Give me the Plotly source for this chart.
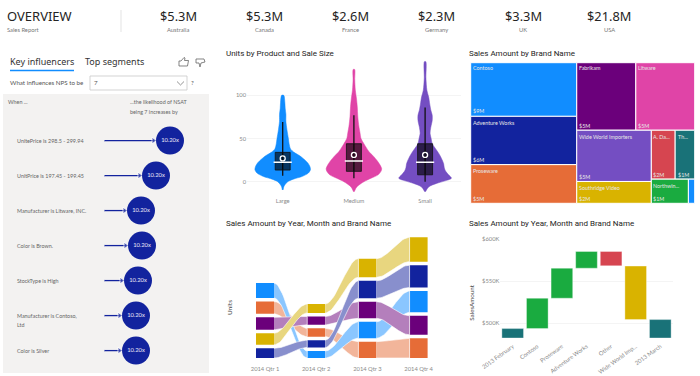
import plotly.graph_objects as go

W, H = 700, 376
TITLE_FONT = "Roboto"
BODY_FONT = "Lato"

# ---------- data ----------
kpi_values = ["$5.3M", "$5.3M", "$2.6M", "$2.3M", "$3.3M", "$21.8M"]
kpi_names = ["Australia", "Canada", "France", "Germany", "UK", "USA"]

ki_labels = ["UnitePrice is 298.5 - 299.94", "UnitPrice is 197.45 - 199.45", "Manufacturer is Litware, INC.",
             "Color is Brown.", "StockType is High", "Manufacturer is Contoso,<br>Ltd", "Color is Silver"]
ki_strength = [66, 52, 37, 38, 34, 32, 32]
ki_text = ["10.20x"] * 7

sizes = ["Large", "Medium", "Small"]
violin_y = [
    [-9.6, -5, 0, 3, 6, 10, 14, 18, 22, 26, 30, 34, 38, 44, 50, 60, 70, 78, 85, 92, 100],
    [-11.6, -6, 0, 4, 8, 12, 15, 19, 24, 29, 35, 40, 44, 50, 57, 64, 75, 87, 97, 106, 118, 130],
    [-11.6, -6, -2, 1, 4, 8, 12, 16, 21, 27, 33, 39, 44, 50, 56, 63, 71, 77, 83, 90, 98, 106, 120, 139],
]
violin_density = [
    [0.005, 0.02, 0.07, 0.15, 0.27, 0.36, 0.39, 0.38, 0.35, 0.30, 0.24, 0.16, 0.11, 0.09, 0.08, 0.06, 0.045, 0.045, 0.035, 0.03, 0.015],
    [0.005, 0.04, 0.14, 0.24, 0.34, 0.38, 0.39, 0.37, 0.33, 0.28, 0.21, 0.17, 0.14, 0.10, 0.085, 0.07, 0.055, 0.047, 0.035, 0.02, 0.012, 0.01],
    [0.005, 0.05, 0.16, 0.28, 0.37, 0.33, 0.29, 0.27, 0.26, 0.23, 0.19, 0.14, 0.10, 0.085, 0.07, 0.08, 0.10, 0.10, 0.08, 0.065, 0.05, 0.025, 0.012, 0.01],
]
box_q1 = [13.5, 12, 8]
box_median = [22.4, 24, 22.4]
box_q3 = [34, 44, 44]
box_mean = [27, 31, 31]
box_low = [7, 4, 0]
box_high = [69, 77, 86]

quarters = ["2014 Qtr 1", "2014 Qtr 2", "2014 Qtr 3", "2014 Qtr 4"]
ribbon_units = {
    "Proseware": [37, 25, 49, 59],
    "Contoso": [45, 21, 49, 64],
    "Fabrikam": [37, 25, 50, 57],
    "Adventure Works": [29, 22, 52, 67],
    "Southridge Video": [35, 27, 56, 73],
}
ribbon_order = [
    ["Adventure Works", "Southridge Video", "Fabrikam", "Proseware", "Contoso"],
    ["Contoso", "Adventure Works", "Proseware", "Fabrikam", "Southridge Video"],
    ["Proseware", "Contoso", "Fabrikam", "Adventure Works", "Southridge Video"],
    ["Proseware", "Fabrikam", "Contoso", "Adventure Works", "Southridge Video"],
]
brand_colors = {"Contoso": "#118DFF", "Adventure Works": "#12239E", "Proseware": "#E66C37",
                "Fabrikam": "#6B007B", "Southridge Video": "#D9B300"}
ribbon_fill = {"Contoso": "#8AC6FF", "Adventure Works": "#888FCD", "Proseware": "#F2B59A",
               "Fabrikam": "#B47FBC", "Southridge Video": "#E8D67F"}
ribbon_gap = 10.5

tree_names = ["Contoso", "Adventure Works", "Proseware", "Fabrikam", "Litware", "Wide World Importers",
              "Southridge Video", "A. Da...", "Th...", "Northwin...", "Other"]
tree_values = [51200, 46100, 36900, 35900, 35800, 34400, 14650, 10500, 8600, 8060, 1370]
tree_colors = ["#118DFF", "#12239E", "#E66C37", "#6B007B", "#E044A7", "#744EC2", "#D9B300", "#D64550", "#197278", "#1AAB40", "#118DFF"]
tree_amounts = ["$9M", "$6M", "$5M", "$5M", "$5M", "$5M", "$2M", "$2M", "$1M", "$1M", ""]

wf_cats = ["2013 February", "Contoso", "Proseware", "Adventure Works", "Other", "Wide World Imp...", "2013 March"]
wf_open = [482.5, 493.7, 529.8, 565.5, 585.3, 568.0, 482.5]
wf_close = [493.7, 529.8, 565.5, 585.3, 568.3, 504.4, 504.4]
wf_colors = ["#197278", "#1AAB40", "#1AAB40", "#1AAB40", "#D64550", "#D9B300", "#197278"]
wf_ticks = [500, 550, 600]
wf_ticktext = ["$500K", "$550K", "$600K"]


# ---------- pixel helpers (layout only) ----------
def fx(p):
    return p / W


def fy(p):
    return 1 - p / H


def dom_x(a, b):
    return [fx(a), fx(b)]


def dom_y(top, bottom):
    return [fy(bottom), fy(top)]


annotations, shapes = [], []


def label(x, y, text, size=7, color="#666666", anchor="left", font=BODY_FONT, **kw):
    px_x = x - 1 if anchor == "left" else x
    annotations.append(dict(x=fx(px_x), y=fy(y), xref="paper", yref="paper", text=text, showarrow=False,
                            xanchor=anchor, yanchor="middle", align=anchor, borderpad=0,
                            font=dict(size=size, color=color, family=font), **kw))


def vlabel(x, y, text, size):
    annotations.append(dict(x=fx(x), y=fy(y), xref="paper", yref="paper", text=text, textangle=-90, showarrow=False,
                            xanchor="center", yanchor="middle", font=dict(size=size, color="#444444", family=BODY_FONT)))


def rect(x0, y0, x1, y1, fill="rgba(0,0,0,0)", line="rgba(0,0,0,0)", width=1):
    shapes.append(dict(type="rect", xref="paper", yref="paper", x0=fx(x0), x1=fx(x1), y0=fy(y0), y1=fy(y1),
                       fillcolor=fill, line=dict(color=line, width=width), layer="below"))


def icon(points, close=True, color="#666666", width=0.8):
    d = "M" + " L".join(f"{fx(a):.5f},{fy(b):.5f}" for a, b in points) + (" Z" if close else "")
    shapes.append(dict(type="path", xref="paper", yref="paper", path=d, line=dict(color=color, width=width)))


fig = go.Figure()

# ---------- header ----------
label(7, 16, "OVERVIEW", size=13, color="#252423", font="Noto Sans")
label(7, 30, "Sales Report", size=5.8, color="#777777")
shapes.append(dict(type="line", xref="paper", yref="paper", x0=fx(121), x1=fx(121), y0=fy(10), y1=fy(32),
                   line=dict(color="#E3E3E3", width=1)))
for cx, val, name in zip([178, 264.5, 350, 436.7, 523, 609], kpi_values, kpi_names):
    label(cx, 16, val, size=12.8, color="#252423", anchor="center", font="Noto Sans")
    label(cx, 30, name, size=5.8, color="#777777", anchor="center")

# ---------- key influencers ----------
label(10, 62, "Key influencers", size=9, color="#333333", font="Noto Sans")
label(85, 62, "Top segments", size=9, color="#333333", font="Noto Sans")
shapes.append(dict(type="line", xref="paper", yref="paper", x0=fx(10), x1=fx(74), y0=fy(70.5), y1=fy(70.5),
                   line=dict(color="#118DFF", width=1.5)))
icon([(179, 61), (181, 61), (184, 57.5), (185, 58), (184.5, 60.5), (188.5, 60.5), (187.5, 66), (179, 66)])
icon([(196, 59), (204, 59), (205, 62), (201, 63), (200, 67), (199, 63), (196, 63)])
label(10, 83, "What influences NPS to be", size=6.2, color="#555555")
rect(90, 76, 187, 90, fill="#FFFFFF", line="#C8C8C8", width=0.8)
label(94, 83, "7", size=6.2, color="#555555")
icon([(177, 81.5), (180.5, 85), (184, 81.5)], close=False, color="#777777")
label(192.5, 83, "?", size=6.2, color="#555555", anchor="center")
rect(3, 94, 209, 373, fill="#F3F2F1")
label(8, 102, "When ...", size=5.4, color="#666666")
label(130, 102, "...the likelihood of NSAT", size=5.4, color="#666666")
label(130, 112, "being 7 increases by", size=5.4, color="#666666")

ki_rows = list(range(len(ki_labels)))
for r, v in zip(ki_rows, ki_strength):
    fig.add_trace(go.Scatter(x=[0, v - 16.5], y=[r, r], mode="lines+markers", xaxis="x", yaxis="y",
                             line=dict(color="#12239E", width=1.3),
                             marker=dict(symbol=["line-ew", "triangle-right"], size=[1, 6], color="#12239E"),
                             showlegend=False, hoverinfo="skip"))
fig.add_trace(go.Scatter(x=ki_strength, y=ki_rows, mode="markers+text", xaxis="x", yaxis="y",
                         text=ki_text, textposition="middle center",
                         textfont=dict(size=5.8, color="#E8E8F5", family=BODY_FONT),
                         marker=dict(size=28, color="#12239E"), showlegend=False))
for r, txt in zip(ki_rows, ki_labels):
    for j, part in enumerate(txt.split("<br>")):
        annotations.append(dict(x=fx(15), y=r + j * 0.26, xref="paper", yref="y", text=part, showarrow=False,
                                xanchor="left", yanchor="middle", font=dict(size=5.4, color="#666666", family=BODY_FONT)))

# ---------- violins ----------
violin_colors = ["#118DFF", "#E044A7", "#744EC2"]
BOX_HALF = 0.105
for i, name in enumerate(sizes):
    xs = [i - d for d in violin_density[i]] + [i + d for d in reversed(violin_density[i])]
    ys = violin_y[i] + violin_y[i][::-1]
    fig.add_trace(go.Scatter(x=xs, y=ys, mode="lines", fill="toself", fillcolor=violin_colors[i], xaxis="x2", yaxis="y2",
                             line=dict(color=violin_colors[i], width=0.5, shape="spline", smoothing=0.8),
                             name=name, showlegend=False))
    fig.add_trace(go.Scatter(x=[i, i], y=[box_low[i], box_high[i]], mode="lines", xaxis="x2", yaxis="y2",
                             line=dict(color="#111111", width=1.3), showlegend=False, name=name))
    fig.add_trace(go.Scatter(x=[i - BOX_HALF, i + BOX_HALF, i + BOX_HALF, i - BOX_HALF, i - BOX_HALF],
                             y=[box_q1[i], box_q1[i], box_q3[i], box_q3[i], box_q1[i]],
                             mode="lines", fill="toself", fillcolor="rgba(0,0,0,0.62)", xaxis="x2", yaxis="y2",
                             line=dict(color="#111111", width=0.8), showlegend=False, name=name))
fig.add_trace(go.Scatter(x=[0, 1, 2], y=box_median, mode="markers", xaxis="x2", yaxis="y2", showlegend=False,
                         marker=dict(symbol="line-ew", size=13, line=dict(color="#FFFFFF", width=1.5))))
fig.add_trace(go.Scatter(x=[0, 1, 2], y=box_mean, mode="markers", xaxis="x2", yaxis="y2", showlegend=False,
                         marker=dict(symbol="circle-open", size=5, color="#FFFFFF", line=dict(color="#FFFFFF", width=1.3))))
label(226, 54, "Units by Product and Sale Size", size=8, color="#252423", font=TITLE_FONT)


# ---------- ribbon ----------
def ribbon_stack(q):
    out, base = {}, 0
    for brand in ribbon_order[q]:
        top = base + ribbon_units[brand][q]
        out[brand] = (base, top)
        base = top + ribbon_gap
    return out


stacks = [ribbon_stack(q) for q in range(4)]
BAR_W = 0.352
STEPS = 24
for brand in ribbon_units:
    for q in range(3):
        x0, x1 = q + BAR_W / 2, q + 1 - BAR_W / 2
        (b0, t0), (b1, t1) = stacks[q][brand], stacks[q + 1][brand]
        ts = [k / STEPS for k in range(STEPS + 1)]
        ease = [t * t * (3 - 2 * t) for t in ts]
        xs = [x0 + t * (x1 - x0) for t in ts]
        top = [t0 + e * (t1 - t0) for e in ease]
        bot = [b0 + e * (b1 - b0) for e in ease]
        fig.add_trace(go.Scatter(x=xs + xs[::-1], y=top + bot[::-1], mode="lines", fill="toself", xaxis="x3", yaxis="y3",
                                 fillcolor=ribbon_fill[brand], line=dict(color="#FFFFFF", width=0.6),
                                 name=brand, showlegend=False, hoverinfo="skip"))
for brand in ribbon_units:
    fig.add_trace(go.Bar(x=[0, 1, 2, 3], y=ribbon_units[brand], base=[stacks[q][brand][0] for q in range(4)],
                         width=BAR_W, marker=dict(color=brand_colors[brand], line=dict(width=0)),
                         xaxis="x3", yaxis="y3", name=brand, showlegend=False))
label(226, 223, "Sales Amount by Year, Month and Brand Name", size=8, color="#252423", font=TITLE_FONT)
vlabel(229, 308, "Units", 6.5)

# ---------- treemap ----------
fig.add_trace(go.Treemap(labels=tree_names, parents=[""] * len(tree_names), values=tree_values,
                         domain=dict(x=dom_x(470.7, 694.7), y=dom_y(62.7, 203.3)),
                         marker=dict(colors=tree_colors, line=dict(color="#FFFFFF", width=1), pad=dict(t=0, l=0, r=0, b=0)),
                         tiling=dict(packing="squarify", pad=0, squarifyratio=1.7), pathbar=dict(visible=False),
                         textinfo="none", hoverinfo="label+value", sort=True))
tree_label_pos = [(473, 68), (473, 122.7), (473, 171), (579, 68), (638, 68), (579, 136.7), (579, 188), (653.3, 136.7), (677.7, 136.7), (653.3, 186), None]
tree_value_pos = [(473, 110.7), (473, 160), (473, 199), (579, 126), (638, 126), (579, 176.7), (579, 199), (653.3, 174.7), (677.7, 174.7), (653.3, 199), None]
for nm, amt, lp, vp in zip(tree_names, tree_amounts, tree_label_pos, tree_value_pos):
    if lp:
        label(lp[0], lp[1], nm, size=5.4, color="#E6E6E6")
        label(vp[0], vp[1], amt, size=5.4, color="#E6E6E6")
label(469, 54, "Sales Amount by Brand Name", size=8, color="#252423", font=TITLE_FONT)

# ---------- waterfall ----------
fig.add_trace(go.Bar(x=wf_cats, y=[c - o for o, c in zip(wf_open, wf_close)], base=wf_open,
                     marker=dict(color=wf_colors, line=dict(color="rgba(255,255,255,0.6)", width=0.6)),
                     xaxis="x5", yaxis="y5", showlegend=False, name="SalesAmount"))
label(469, 223, "Sales Amount by Year, Month and Brand Name", size=8, color="#252423", font=TITLE_FONT)
vlabel(470.7, 303, "SalesAmount", 6.2)

tick_font = dict(size=5.8, color="#8A8A8A", family=BODY_FONT)
hidden = dict(visible=False, fixedrange=True, automargin=False)
fig.update_layout(
    width=W, height=H, margin=dict(l=0, r=0, t=0, b=0, autoexpand=False), paper_bgcolor="#FFFFFF", plot_bgcolor="rgba(0,0,0,0)",
    showlegend=False, barmode="overlay", bargap=0.12, annotations=annotations, shapes=shapes,
    xaxis=dict(domain=dom_x(104, 209), range=[0, 105], **hidden),
    yaxis=dict(domain=dom_y(94, 373), range=[6.64, -1.33], **hidden),
    xaxis2=dict(domain=dom_x(247.1, 460.7), range=[-0.5, 2.5], anchor="y2", tickvals=[0, 1, 2], ticktext=sizes, automargin=False,
                tickfont=tick_font, showgrid=False, zeroline=False, showline=False, ticks="", ticklabelstandoff=4, fixedrange=True),
    yaxis2=dict(domain=dom_y(60, 192), range=[-11.9, 140.9], anchor="x2", tickvals=[0, 50, 100], tickfont=tick_font, automargin=False,
                gridcolor="#F4F4F4", gridwidth=1, zeroline=False, showline=False, fixedrange=True),
    xaxis3=dict(domain=dom_x(239.4, 444.2), range=[-0.5, 3.5], anchor="y3", tickvals=[0, 1, 2, 3], ticktext=quarters, automargin=False,
                tickfont=tick_font, showgrid=False, zeroline=False, ticks="", ticklabelstandoff=6, fixedrange=True),
    yaxis3=dict(domain=dom_y(235.7, 358), range=[0, 367], anchor="x3", visible=False, fixedrange=True, automargin=False),
    xaxis5=dict(domain=dom_x(500.4, 672.6), anchor="y5", tickangle=-36, tickfont=tick_font, showgrid=False, automargin=False,
                zeroline=False, ticks="", ticklabelstandoff=3, fixedrange=True, categoryorder="array", categoryarray=wf_cats),
    yaxis5=dict(domain=dom_y(239, 338), range=[482.5, 600.2], anchor="x5", tickvals=wf_ticks, ticktext=wf_ticktext, automargin=False,
                tickfont=tick_font, gridcolor="#F4F4F4", zeroline=False, showline=False, fixedrange=True),
)
fig.write_html("out.html", config=dict(displayModeBar=False),
               post_script="document.body.style.margin='0';document.body.style.overflow='hidden';")
